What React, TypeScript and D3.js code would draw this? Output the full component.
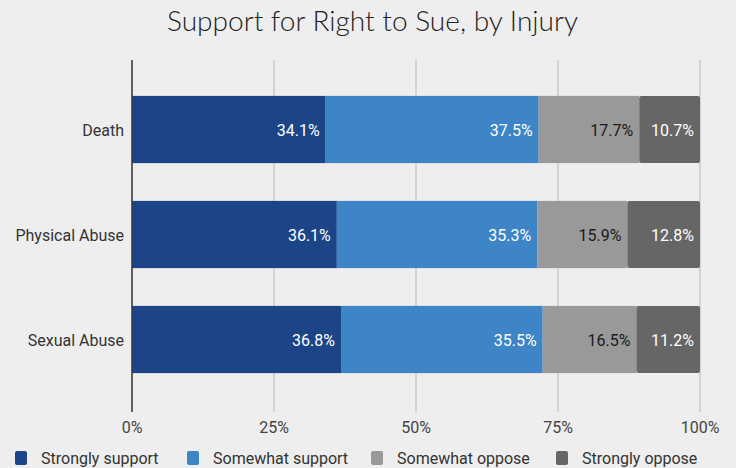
import React from "react";
import * as d3 from "d3";

const categories = ["Death", "Physical Abuse", "Sexual Abuse"];
const seriesNames = ["Strongly support", "Somewhat support", "Somewhat oppose", "Strongly oppose"];
const stronglySupport = [34.1, 36.1, 36.8];
const somewhatSupport = [37.5, 35.3, 35.5];
const somewhatOppose = [17.7, 15.9, 16.5];
const stronglyOppose = [10.7, 12.8, 11.2];
const tickValues = [0, 25, 50, 75, 100];
const colors = ["#1c4587", "#3d85c6", "#999999", "#666666"];
const labelColors = ["#ffffff", "#ffffff", "#1a1a1a", "#ffffff"];

export default function App() {
  const W = 736, H = 468;
  const x = d3.scaleLinear().domain([0, 100]).range([132, 700]);
  const y = d3.scaleBand<string>().domain(categories).range([77, 392]).paddingInner(0.36).paddingOuter(0.18);
  const series = [stronglySupport, somewhatSupport, somewhatOppose, stronglyOppose];
  const rows = categories.map((c, i) => {
    const vals = series.map((s) => s[i]);
    const total = d3.sum(vals);
    let acc = 0;
    return vals.map((v, k) => {
      const x0 = acc;
      acc += (v / total) * 100;
      return { c, v, k, x0, x1: acc };
    });
  });
  const font = "Roboto, 'Noto Sans', sans-serif";
  const legendX = [15, 187, 371, 556];
  return (
    <svg width={W} height={H} style={{ position: "absolute", left: 0, top: 0, background: "#eeeeee" }} fontFamily={font}>
      <rect x={0} y={0} width={W} height={H} fill="#eeeeee" />
      <text x={167} y={31} fontSize={28} fill="#222" fontWeight={300} fontFamily="Lato, 'Open Sans', sans-serif" textLength={411} lengthAdjust="spacingAndGlyphs">Support for Right to Sue, by Injury</text>
      {tickValues.map((t) => (
        <g key={t}>
          <line x1={x(t)} x2={x(t)} y1={60} y2={412} stroke={t === 0 ? "#333" : "#b8b8b8"} strokeWidth={1} />
          <text x={x(t)} y={433} textAnchor="middle" fontSize={16} fill="#444">{t}%</text>
        </g>
      ))}
      {rows.map((segs, i) => (
        <g key={categories[i]}>
          <text x={124} y={(y(categories[i]) as number) + y.bandwidth() / 2 + 6} textAnchor="end" fontSize={16} fill="#333">{categories[i]}</text>
          {segs.map((s) => (
            <rect key={s.k} x={x(s.x0)} y={y(s.c)} width={x(s.x1) - x(s.x0)} height={y.bandwidth()} fill={colors[s.k]} rx={s.k === 3 ? 2 : 0} />
          ))}
          {segs.map((s) => (
            <text key={"t" + s.k} x={x(s.x1) - 6} y={(y(s.c) as number) + y.bandwidth() / 2 + 6} textAnchor="end" fontSize={16} fill={labelColors[s.k]}>{s.v.toFixed(1)}%</text>
          ))}
        </g>
      ))}
      <line x1={x(0)} x2={x(0)} y1={60} y2={412} stroke="#333" strokeWidth={1} />
      {seriesNames.map((n, k) => (
        <g key={n}>
          <rect x={legendX[k]} y={451} width={12} height={14} rx={2} fill={colors[k]} />
          <text x={legendX[k] + 26} y={464} fontSize={16} fill="#333">{n}</text>
        </g>
      ))}
    </svg>
  );
}
